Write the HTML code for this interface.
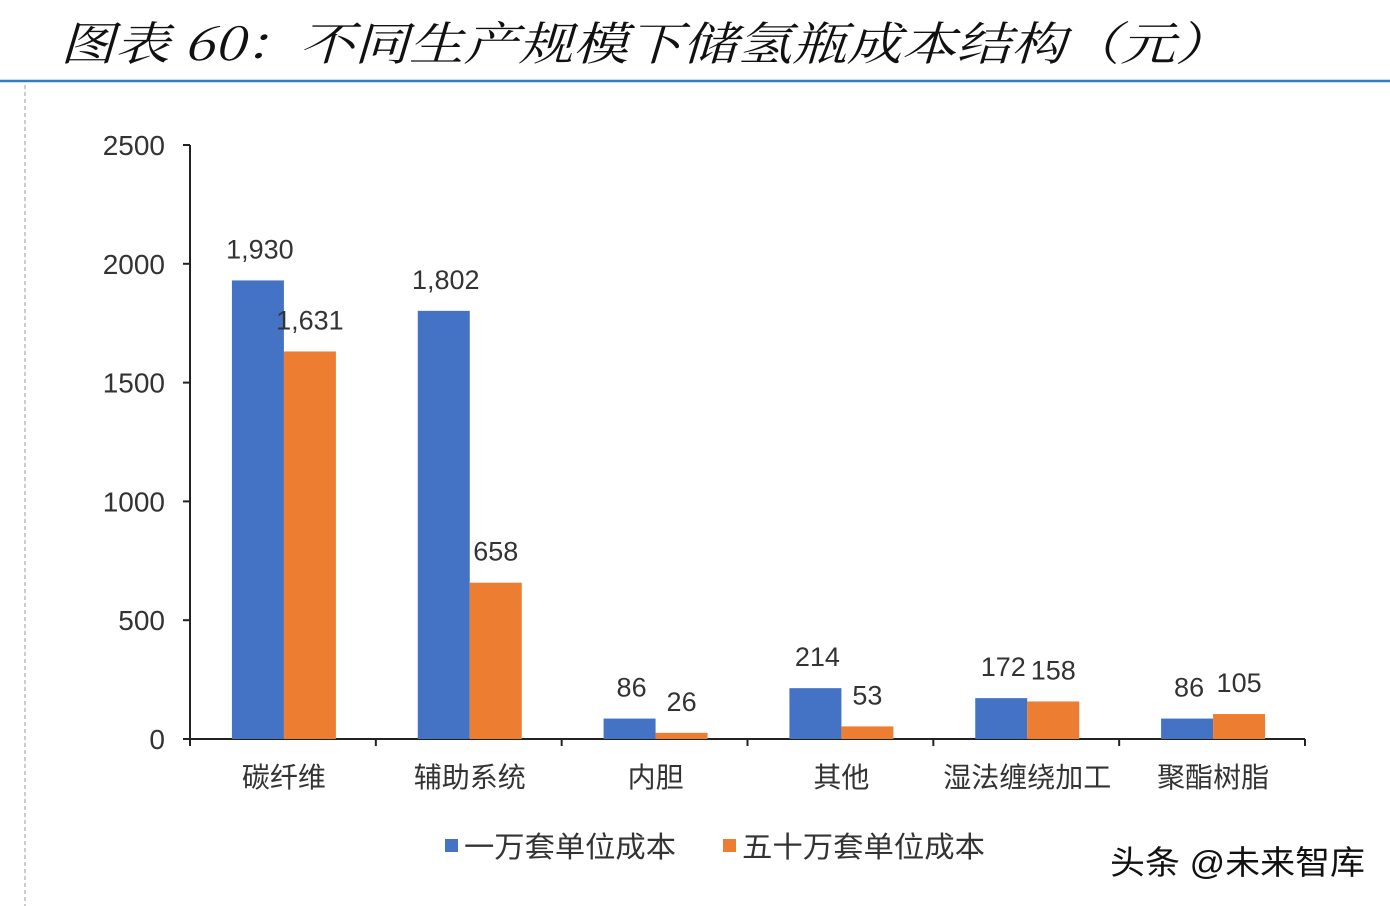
<!DOCTYPE html>
<html><head><meta charset="utf-8"><style>
body{margin:0;background:#fff;}
svg{display:block;font-family:"Liberation Sans","Noto Sans CJK SC",sans-serif;}
</style></head><body>
<svg id="c" width="1390" height="906" viewBox="0 0 1390 906">
<text x="60" y="60" font-size="46" font-style="italic" fill="#111" textLength="1170" lengthAdjust="spacingAndGlyphs" font-family="'Noto Serif CJK SC','Liberation Serif',serif">图表 60：不同生产规模下储氢瓶成本结构（元）</text>
<line x1="0" y1="81" x2="1390" y2="81" stroke="#2e7fc0" stroke-width="2.5"/>
<line x1="25" y1="85" x2="25" y2="906" stroke="#999" stroke-width="1" stroke-dasharray="4,3"/>
<g id="plot"></g>
<rect x="445" y="839" width="13" height="13" fill="#4472c4"/>
<text x="464" y="857" font-size="29" fill="#333" textLength="212" lengthAdjust="spacingAndGlyphs">一万套单位成本</text>
<rect x="723" y="839" width="13" height="13" fill="#ed7d31"/>
<text x="742" y="857" font-size="29" fill="#333" textLength="243" lengthAdjust="spacingAndGlyphs">五十万套单位成本</text>
<text x="1110" y="874" font-size="33" fill="#111" textLength="255" lengthAdjust="spacingAndGlyphs">头条 @未来智库</text>
</svg>
<script>
const categories=["碳纤维","辅助系统","内胆","其他","湿法缠绕加工","聚酯树脂"];
const series10k=[1930,1802,86,214,172,86];
const series500k=[1631,658,26,53,158,105];
const labels10k=["1,930","1,802","86","214","172","86"];
const labels500k=["1,631","658","26","53","158","105"];
const yTicks=[0,500,1000,1500,2000,2500];
const NS="http://www.w3.org/2000/svg";
const g=document.getElementById('plot');
const X0=190,X1=1305,Y0=739,Y1=145,YMAX=2500;
const y=v=>Y0-(v/YMAX)*(Y0-Y1);
const cw=(X1-X0)/categories.length;
const xc=i=>X0+cw*(i+0.5);
function el(t,a){const e=document.createElementNS(NS,t);for(const k in a)e.setAttribute(k,a[k]);g.appendChild(e);return e;}
let e=el('line',{x1:X0,y1:Y1,x2:X0,y2:Y0,stroke:'#222','stroke-width':2});


yTicks.forEach(v=>{
 let t=el('line',{x1:X0-7,y1:y(v),x2:X0,y2:y(v),stroke:'#222','stroke-width':2});
 
 
 let l=el('text',{x:X0-25,y:y(v)+10,'font-size':28,fill:'#333','text-anchor':'end'});
 l.textContent=v;
 
 
});
e=el('line',{x1:X0,y1:Y0,x2:X1,y2:Y0,stroke:'#222','stroke-width':2});


for(let i=0;i<=categories.length;i++){
 let t=el('line',{x1:X0+cw*i,y1:Y0,x2:X0+cw*i,y2:Y0+7,stroke:'#222','stroke-width':2});
 
 
}
const bw=52;
categories.forEach((c,i)=>{
 const cx=xc(i)+1;
 let b=el('rect',{x:cx-bw,y:y(series10k[i]),width:bw,height:Y0-y(series10k[i]),fill:'#4472c4'});
 
 
 let o=el('rect',{x:cx,y:y(series500k[i]),width:bw,height:Y0-y(series500k[i]),fill:'#ed7d31'});
 
 
 let l1=el('text',{x:cx-bw/2+2,y:y(series10k[i])-22,'font-size':27,fill:'#333','text-anchor':'middle'});
 l1.textContent=labels10k[i];
 
 
 let l2=el('text',{x:cx+bw/2,y:y(series500k[i])-22,'font-size':27,fill:'#333','text-anchor':'middle'});
 l2.textContent=labels500k[i];
 
 
 let cl=el('text',{x:cx,y:787,'font-size':28,fill:'#333','text-anchor':'middle'});
 cl.textContent=c;
 
 
});
</script>
</body></html>
